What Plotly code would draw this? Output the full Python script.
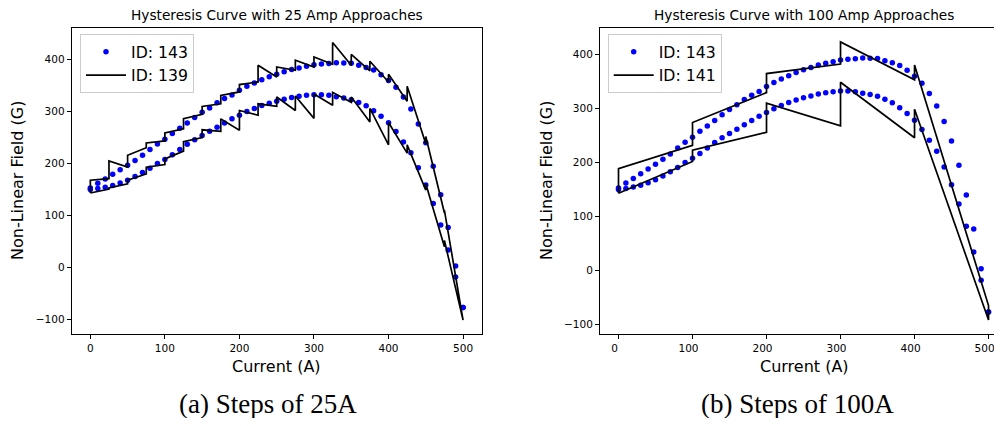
import plotly.graph_objects as go

# ---------------- data ----------------
# Reference measurement ID 143 (blue dots), every 10 A
dot_current = list(range(0, 501, 10))
dot_field_ascending = [150, 152, 154.5, 158, 162.5, 168, 175, 183, 191, 200,
                       208, 217, 227, 237, 246, 254, 262, 270, 278, 286,
                       293, 300, 306, 311.5, 316, 320, 323.5, 327, 329.5, 331.5,
                       332.5, 332.5, 331.5, 328.5, 326, 323, 317.5, 311, 301.5, 291,
                       278.5, 261.5, 241.5, 221, 192, 159, 123, 82, 34, -18, -77]
dot_field_descending = [153, 162, 170.5, 179.5, 188, 197, 206, 216, 227, 237.5,
                        247, 258, 268, 278, 288.5, 298.5, 307, 317, 325, 332,
                        341, 348.5, 355, 361, 367, 372, 376.5, 381, 384, 387,
                        390, 391.5, 392.5, 394, 393.5, 393, 389, 385, 380, 371,
                        360, 347, 328, 305, 276, 240, 195, 140, 77, 3, -77]

# ID 139: 25 A steps (field on arrival at a step and after settling)
steps_25 = list(range(0, 501, 25))
asc_arrive_25 = [143.5, 151, 161, 180, 198, 224, 250, 262, 264, 293, 310,
                 302, 287, 312, 318, 280, 236, 220, 149, 40, -101]
asc_settle_25 = [143.5, 153, 168, 193, 209, 242, 265, 286, 302, 315, 328,
                 330, 334, 337, 328, 306, 279, 236, 161, 52, -101]
desc_arrive_25 = [168, 205, 216, 239.7, 258.9, 286.5, 310, 331, 351.9, 389, 385.8,
                  398.7, 405, 433, 410, 396.7, 372, 348.7, 252, 110, -101]
desc_settle_25 = [143.5, 171, 193.5, 230.5, 243.6, 267, 294.8, 315, 337.8, 357, 366.6,
                  379.4, 385.8, 391, 389, 378.5, 357, 320, 238, 105, -101]

# ID 141: 100 A steps
steps_100 = [0, 100, 200, 300, 400, 500]
asc_arrive_100 = [143, 202, 256, 268, 246, -92]
asc_settle_100 = [143, 223, 310, 349, 299, -92]
desc_arrive_100 = [188.6, 274.4, 365, 423.7, 381, -65]
desc_settle_100 = [143, 232, 329.7, 382.6, 353.4, -65]

x_ticks = [0, 100, 200, 300, 400, 500]
y_ticks = [-100, 0, 100, 200, 300, 400]


def loop_path(steps, a_arr, a_set, d_arr, d_set):
    xs, ys = [], []
    for s, a, b in zip(steps, a_arr, a_set):
        xs += [s, s]
        ys += [a, b]
    for s, a, b in reversed(list(zip(steps, d_arr, d_set))):
        xs += [s, s]
        ys += [a, b]
    return xs, ys


dots_x = dot_current + dot_current[::-1]
dots_y = dot_field_ascending + dot_field_descending[::-1]

l25x, l25y = loop_path(steps_25, asc_arrive_25, asc_settle_25, desc_arrive_25, desc_settle_25)
l100x, l100y = loop_path(steps_100, asc_arrive_100, asc_settle_100, desc_arrive_100, desc_settle_100)

# The page body has an 8px margin, so the figure is drawn 8px in from the corner.
# Keep the figure small enough that the page never needs to scroll.
OFF = 8
W, H = 1002 - OFF, 426 - 2 * OFF
FONT = "DejaVu Sans"


def px(x):
    return (x - OFF) / W


def py(y):
    return 1 - (y - OFF) / H


fig = go.Figure()
for xa, ya, lg, lx, ly, lname in [("x", "y", "legend", l25x, l25y, "ID: 139"),
                                  ("x2", "y2", "legend2", l100x, l100y, "ID: 141")]:
    fig.add_trace(go.Scatter(x=dots_x, y=dots_y, mode="markers", name="ID: 143",
                             marker=dict(color="#0000ff", size=5.5),
                             xaxis=xa, yaxis=ya, legend=lg))
    fig.add_trace(go.Scatter(x=lx, y=ly, mode="lines", name=lname,
                             line=dict(color="black", width=1.7),
                             xaxis=xa, yaxis=ya, legend=lg))

top_px, bot_px = 28, 334
ydom = [py(bot_px), py(top_px)]

axis_common = dict(showgrid=False, zeroline=False, showline=True, linecolor="black",
                   linewidth=1, ticks="outside", ticklen=4, tickwidth=1, tickcolor="black",
                   automargin=False, ticklabeloverflow="allow",
                   tickfont=dict(family=FONT, size=10.5, color="black"))

legend_common = dict(xanchor="left", yanchor="top", bordercolor="#cccccc", borderwidth=1,
                     bgcolor="rgba(255,255,255,0.85)", itemwidth=40,
                     font=dict(family=FONT, size=15.7, color="black"))

fig.update_layout(
    width=W, height=H,
    margin=dict(l=0, r=0, t=0, b=0, autoexpand=False),
    paper_bgcolor="white", plot_bgcolor="white",
    xaxis=dict(domain=[px(71.7), px(481.7)], range=[-25, 525], tickvals=x_ticks,
               mirror=True, anchor="y", **axis_common),
    yaxis=dict(domain=ydom, range=[-127.75, 460.75], tickvals=y_ticks,
               mirror=True, anchor="x", **axis_common),
    xaxis2=dict(domain=[px(600), 1.0], range=[-25, 518.2], tickvals=x_ticks,
                mirror=True, anchor="y2", ticklabelshift=-4, **axis_common),
    yaxis2=dict(domain=ydom, range=[-117.8, 449.5], tickvals=y_ticks,
                mirror=False, anchor="x2", **axis_common),
    legend=dict(x=px(80), y=py(34), **legend_common),
    legend2=dict(x=px(607.7), y=py(34), **legend_common),
)

ann = []


def txt(text, x, y, size, family=FONT, angle=0):
    ann.append(dict(text=text, x=px(x), y=py(y), xref="paper", yref="paper", showarrow=False,
                    xanchor="center", yanchor="middle", textangle=angle,
                    font=dict(family=family, size=size, color="black")))


txt("Hysteresis Curve with 25 Amp Approaches", 276.7, 15, 13.7)
txt("Hysteresis Curve with 100 Amp Approaches", 804, 15, 13.7)
txt("Current (A)", 276.7, 366, 16)
txt("Current (A)", 804, 366, 16)
txt("Non-Linear Field (G)", 18, 181, 16, angle=-90)
txt("Non-Linear Field (G)", 547, 181, 16, angle=-90)
txt("(a) Steps of 25A", 268, 404, 27, family="Liberation Serif")
txt("(b) Steps of 100A", 797, 404, 27, family="Liberation Serif")
fig.update_layout(annotations=ann)

fig.write_html("out.html")
